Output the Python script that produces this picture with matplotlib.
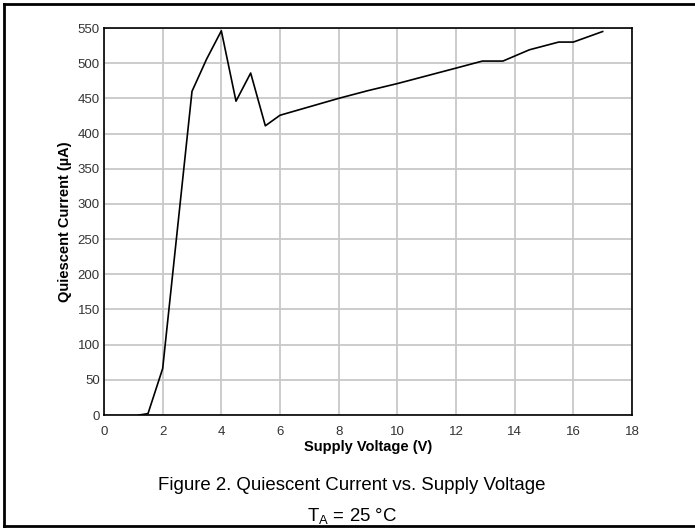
import matplotlib
matplotlib.use("Agg")
import matplotlib.pyplot as plt
from matplotlib.lines import Line2D

plt.rcParams['font.family'] = ['Liberation Sans', 'DejaVu Sans']

# Quiescent current vs supply voltage
voltage = [1.2, 1.5, 2.0, 3.0, 3.5, 4.0, 4.5, 5.0, 5.5, 6.0, 7.0, 8.0, 9.0,
           10.0, 11.0, 12.0, 12.9, 13.6, 14.5, 15.5, 16.0, 17.0]
current = [0, 2, 66, 460, 506, 546, 446, 486, 411, 426, 438, 450, 461,
           471, 482, 493, 503, 503, 519, 530, 530, 545]

x_ticks = list(range(0, 20, 2))
y_ticks = list(range(0, 551, 50))

fig = plt.figure(figsize=(6.95, 5.28), dpi=100)
ax = fig.add_axes([104/695, 1-415/528, (632-104)/695, (415-28)/528])

ax.plot(voltage, current, color='black', lw=1.2)

ax.set_xlim(0, 18)
ax.set_ylim(0, 550)
ax.set_xticks(x_ticks)
ax.set_yticks(y_ticks)
ax.tick_params(length=0, labelsize=9.5, labelcolor='#333333')
ax.tick_params(axis='x', pad=8)
ax.tick_params(axis='y', pad=3)
ax.grid(color='#c8c8c8', lw=1.3)
ax.set_axisbelow(True)
for s in ax.spines.values():
    s.set_linewidth(1.2)

ax.set_xlabel('Supply Voltage (V)', fontsize=10.5, fontweight='bold', labelpad=1)
ax.set_ylabel('Quiescent Current (\u00b5A)', fontsize=10.5, fontweight='bold', labelpad=4)

# caption
fig.text(352/695, 1-485/528, 'Figure 2. Quiescent Current vs. Supply Voltage',
         ha='center', va='center', fontsize=13.4)
fig.text(352/695, 1-517/528, 'T$_\\mathregular{A}$ = 25 \u00b0C',
         ha='center', va='center', fontsize=13.4)

# outer frame (open on the right)
fig.add_artist(Line2D([4/695, 1], [1-3.5/528, 1-3.5/528], transform=fig.transFigure, color='black', lw=2))
fig.add_artist(Line2D([4/695, 1], [1-526/528, 1-526/528], transform=fig.transFigure, color='black', lw=2))
fig.add_artist(Line2D([4/695, 4/695], [1-526/528, 1-3.5/528], transform=fig.transFigure, color='black', lw=2))

fig.savefig('out.png', dpi=100)
